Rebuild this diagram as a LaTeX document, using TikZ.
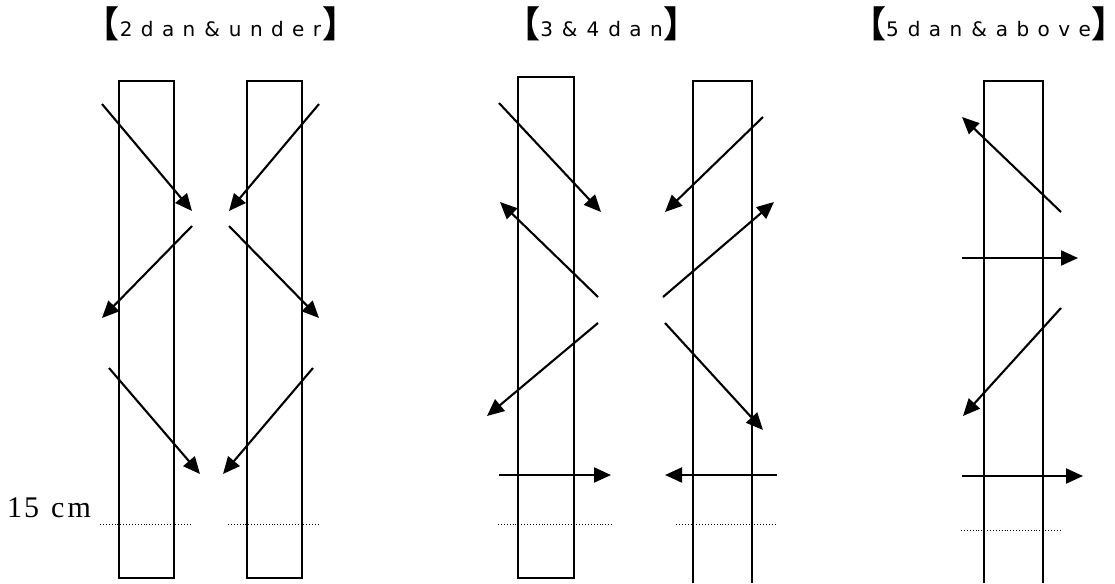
\documentclass[tikz,border=0pt]{standalone}
\usepackage{fontspec}
\usetikzlibrary{arrows.meta}
\newfontfamily\latinfont[LetterSpace=42]{DejaVu Sans}
\newfontfamily\brkfont{Noto Sans CJK JP}
\newfontfamily\cmfont{Liberation Serif}
\newcommand{\lbrk}{{\brkfont\bfseries\fontsize{36}{36}\selectfont\makebox[22pt][r]{\raisebox{-1pt}{【}}}}
\newcommand{\rbrk}{{\brkfont\bfseries\fontsize{36}{36}\selectfont\makebox[22pt][l]{\raisebox{-1pt}{】}}}}
\newcommand{\gap}{\hspace{9pt}}
\begin{document}
\begin{tikzpicture}[x=1pt,y=-1pt,
  post/.style={line width=1.1pt},
  arr/.style={line width=2.1pt, -{Triangle[length=17pt,width=15pt]}},
  mark15/.style={line width=0.9pt, dash pattern=on 0.9pt off 2pt},
  title/.style={font=\latinfont\fontsize{20}{20}\selectfont, inner sep=0pt, anchor=base}]
\useasboundingbox (0,0) rectangle (1115,583);
% titles
\node[title] (t1) at (221,37) {\lbrk\hspace{0pt}2dan\gap\&\gap under\hspace{1pt}\rbrk};
\node[title] (t2) at (602,37) {\lbrk\hspace{0pt}3\gap\&\gap 4\gap dan\hspace{1pt}\rbrk};
\node[title] (t3) at (989,37) {\lbrk\hspace{0pt}5\gap dan\gap\&\gap above\hspace{1pt}\rbrk};
\node[font=\cmfont\fontsize{30}{30}\selectfont, inner sep=0pt, anchor=base west] (cm) at (7,517) {1\hspace{2pt}5\hspace{12pt}c\hspace{3pt}m};
% posts
\draw[post] (119,578) rectangle (174,81);
\draw[post] (247,578) rectangle (302,81);
\draw[post] (518,578) rectangle (574,77);
\draw[post] (693,583) -- (693,81) -- (752,81) -- (752,583);
\draw[post] (984,583) -- (984,81) -- (1043,81) -- (1043,583);
% 15 cm marks
\draw[mark15] (100,524) -- (192,524);
\draw[mark15] (228,524) -- (320,524);
\draw[mark15] (498,524) -- (612,524);
\draw[mark15] (676,524) -- (777,524);
\draw[mark15] (961,530) -- (1062,530);
% 2 dan & under
\draw[arr] (102,104) -- (192,211);
\draw[arr] (319,104) -- (229,211);
\draw[arr] (192,226) -- (102,318);
\draw[arr] (229,226) -- (319,318);
\draw[arr] (109,368) -- (200,474);
\draw[arr] (313,368) -- (223,474);
% 3 & 4 dan
\draw[arr] (499,103) -- (601,212);
\draw[arr] (763,117) -- (665,212);
\draw[arr] (598,297) -- (500,202);
\draw[arr] (663,297) -- (774,202);
\draw[arr] (598,323) -- (487,416);
\draw[arr] (665,323) -- (763,430);
\draw[arr] (499,475) -- (611,475);
\draw[arr] (777,475) -- (665,475);
% 5 dan & above
\draw[arr] (1061,212) -- (962,117);
\draw[arr] (962,258) -- (1078,258);
\draw[arr] (1061,308) -- (963,416);
\draw[arr] (962,476) -- (1083,476);
\end{tikzpicture}
\end{document}
